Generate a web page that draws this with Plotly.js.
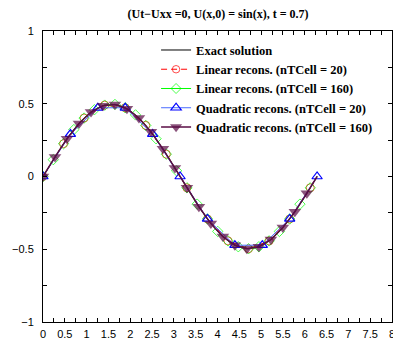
<!DOCTYPE html>
<html>
<head>
<meta charset="utf-8">
<script src="https://cdn.plot.ly/plotly-3.0.1.min.js"></script>
<style>html,body{margin:0;padding:0;background:#fff;}#chart{width:393px;height:339px;}</style>
</head>
<body>
<div id="chart"></div>
<script>
// Exact solution
const exactX = [0,0.157,0.314,0.471,0.628,0.785,0.942,1.100,1.257,1.414,1.571,1.728,1.885,2.042,2.199,2.356,2.513,2.670,2.827,2.985,3.142,3.299,3.456,3.613,3.770,3.927,4.084,4.241,4.398,4.555,4.712,4.869,5.027,5.184,5.341,5.498,5.655,5.812,5.969,6.126,6.283];
const exactY = [0,0.0777,0.1534,0.2255,0.2919,0.3511,0.4017,0.4425,0.4723,0.4905,0.4966,0.4905,0.4723,0.4425,0.4017,0.3511,0.2919,0.2255,0.1534,0.0777,0,-0.0777,-0.1534,-0.2255,-0.2919,-0.3511,-0.4017,-0.4425,-0.4723,-0.4905,-0.4966,-0.4905,-0.4723,-0.4425,-0.4017,-0.3511,-0.2919,-0.2255,-0.1534,-0.0777,0];
// Linear recons. nTCell = 20
const lin20X = [0,0.471,0.942,1.414,1.885,2.356,2.827,3.299,3.770,4.241,4.712,5.184,5.655,6.126,6.283];
const lin20Y = [0,0.2255,0.4017,0.4905,0.4723,0.3511,0.1534,-0.0777,-0.2919,-0.4425,-0.4966,-0.4425,-0.2919,-0.0777,0];
// Linear recons. nTCell = 160
const lin160X = [0,0.236,0.471,0.707,0.942,1.178,1.414,1.649,1.885,2.121,2.356,2.592,2.827,3.063,3.299,3.534,3.770,4.006,4.241,4.477,4.712,4.948,5.184,5.419,5.655,5.890,6.126,6.283];
const lin160Y = [0,0.1159,0.2255,0.3225,0.4017,0.4588,0.4905,0.4951,0.4723,0.4234,0.3511,0.2595,0.1534,0.0390,-0.0777,-0.1900,-0.2919,-0.3776,-0.4425,-0.4829,-0.4966,-0.4829,-0.4425,-0.3776,-0.2919,-0.1900,-0.0777,0];
// Quadratic recons. nTCell = 20
const quad20X = [0,0.628,1.257,1.885,2.513,3.142,3.770,4.398,5.027,5.655,6.283];
const quad20Y = [0,0.2919,0.4723,0.4723,0.2919,0,-0.2919,-0.4723,-0.4723,-0.2919,0];
// Quadratic recons. nTCell = 160
const quad160X = [0,0.275,0.550,0.825,1.100,1.374,1.649,1.924,2.199,2.474,2.749,3.024,3.299,3.574,3.848,4.123,4.398,4.673,4.948,5.223,5.498,5.773,6.048,6.283];
const quad160Y = [0,0.1348,0.2595,0.3647,0.4425,0.4871,0.4951,0.4659,0.4017,0.3074,0.1900,0.0584,-0.0777,-0.2079,-0.3225,-0.4129,-0.4723,-0.4962,-0.4829,-0.4333,-0.3511,-0.2426,-0.1159,0];

const names = ['Exact solution','Linear recons. (nTCell = 20)','Linear recons. (nTCell = 160)','Quadratic recons. (nTCell = 20)','Quadratic recons. (nTCell = 160)'];

function sizes(n, s, lastHidden){ const a=[]; for(let i=0;i<n;i++) a.push(s); if(lastHidden) a[n-1]=0; return a; }

const traces = [
  {x: exactX, y: exactY, name: names[0], mode: 'lines', line: {color: '#000000', width: 1}},
  {x: lin20X, y: lin20Y, name: names[1], mode: 'lines+markers', line: {color: '#ff0000', width: 1, dash: '6px,4px'},
   marker: {symbol: 'circle-open', size: sizes(lin20X.length, 8, true), color: '#ff0000', line: {width: 1, color: '#ff0000'}}},
  {x: lin160X, y: lin160Y, name: names[2], mode: 'lines+markers', line: {color: '#00ff00', width: 1},
   marker: {symbol: 'diamond-open', size: sizes(lin160X.length, 8, true), color: '#00ff00', line: {width: 1, color: '#00ff00'}}},
  {x: quad20X, y: quad20Y, name: names[3], mode: 'lines+markers', line: {color: '#4a6cff', width: 1},
   marker: {symbol: 'triangle-up-open', size: 9, color: '#0000ff', line: {width: 1.2, color: '#0000ff'}}},
  {x: quad160X, y: quad160Y, name: names[4], mode: 'lines+markers', line: {color: '#5a0c44', width: 1.5},
   marker: {symbol: 'triangle-down', size: sizes(quad160X.length, 11, true), color: '#5a0c44', line: {width: 0}}}
];

const axisCommon = {
  showline: true, linecolor: '#000', linewidth: 1, mirror: 'ticks',
  ticks: 'inside', ticklen: 4, tickcolor: '#000', tickwidth: 1,
  showgrid: false, zeroline: false,
  tickfont: {family: 'Liberation Sans, Arial, sans-serif', size: 11, color: '#000'},
  minor: {ticks: 'inside', ticklen: 4, tickcolor: '#000', dtick: 0.25, showgrid: false}
};

const layout = {
  width: 393, height: 339,
  margin: {l: 43, r: 1, t: 31, b: 17},
  paper_bgcolor: '#fff', plot_bgcolor: '#fff',
  title: {text: '(Ut\u2212Uxx =0, U(x,0) = sin(x), t = 0.7)', x: 0.555, xanchor: 'center', y: 0.958, yanchor: 'middle',
          font: {family: 'Liberation Serif, Times New Roman, serif', size: 12, color: '#000', weight: 'bold'}},
  xaxis: Object.assign({}, axisCommon, {range: [0, 8], dtick: 0.5, tick0: 0, ticklabelstandoff: 2, ticklabeloverflow: 'allow'}),
  yaxis: Object.assign({}, axisCommon, {range: [-1, 1], dtick: 0.5, tick0: 0, ticklabelstandoff: 6}),
  showlegend: true,
  legend: {x: 0.324, y: 0.985, xanchor: 'left', yanchor: 'top', bgcolor: 'rgba(0,0,0,0)', borderwidth: 0,
           font: {family: 'Liberation Serif, Times New Roman, serif', size: 12.5, color: '#000', weight: 'bold'},
           tracegroupgap: 0, itemwidth: 30}
};

Plotly.newPlot('chart', traces, layout, {staticPlot: true, displayModeBar: false});
</script>
</body>
</html>
